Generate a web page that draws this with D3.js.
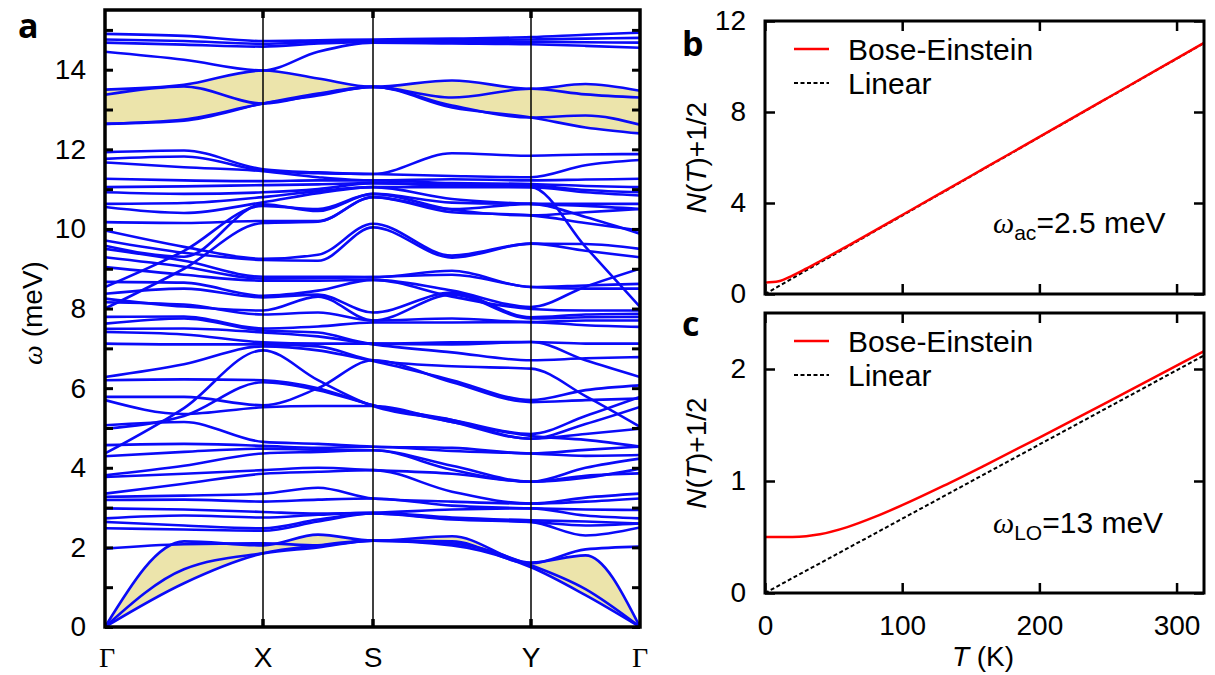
<!DOCTYPE html>
<html>
<head>
<meta charset="utf-8">
<script src="https://cdn.jsdelivr.net/npm/d3@7"></script>
<style>
  body { margin: 0; background: #fff; }
  svg { display: block; }
  text { font-family: "Liberation Sans", Arial, sans-serif; fill: #000; }
</style>
</head>
<body>
<svg id="fig" width="1215" height="675"></svg>
<script>
// ---- panel a : phonon bands, sampled at G, G-X/2, X, X-S/2, S, S-Y/2, Y, Y-G/2, G
const kLabels = ["\u0393", "X", "S", "Y", "\u0393"];
const kNodes = [0, 1, 2, 3, 4];
const kSamples = [0, 0.5, 1, 1.5, 2, 2.5, 3, 3.5, 4];

const topBands = [
  [14.90, 14.85, 14.72, 14.74, 14.76, 14.78, 14.82, 14.88, 14.93],
  [14.76, 14.72, 14.65, 14.70, 14.72, 14.74, 14.76, 14.78, 14.80],
  [14.68, 14.63, 14.58, 14.66, 14.70, 14.70, 14.70, 14.69, 14.68],
  [14.45, 14.25, 13.98, 14.45, 14.68, 14.66, 14.64, 14.60, 14.55]
];

// LO group (shaded)
const loBands = [
  [13.50, 13.62, 13.98, 13.78, 13.57, 13.73, 13.52, 13.64, 13.47],
  [13.37, 13.58, 13.15, 13.38, 13.57, 13.30, 13.52, 13.38, 13.30],
  [12.64, 12.75, 13.15, 13.35, 13.57, 13.10, 12.80, 12.85, 12.62],
  [12.64, 12.72, 13.15, 13.40, 13.57, 13.05, 12.80, 12.55, 12.40]
];

const midBands = [
  [11.93, 11.97, 11.50, 11.42, 11.38, 11.90, 11.84, 11.87, 11.88],
  [11.76, 11.82, 11.47, 11.40, 11.38, 11.33, 11.30, 11.60, 11.73],
  [11.67, 11.55, 11.45, 11.30, 11.22, 11.25, 11.22, 11.24, 11.26],
  [11.26, 11.22, 11.20, 11.22, 11.22, 11.15, 11.13, 11.08, 11.05],
  [11.05, 11.07, 11.10, 11.12, 11.15, 11.12, 11.09, 10.98, 10.92],
  [10.92, 10.88, 10.92, 11.00, 11.15, 11.08, 11.05, 9.55, 8.04],
  [10.63, 10.65, 10.80, 10.95, 11.05, 11.05, 11.05, 10.92, 10.84],
  [10.55, 10.40, 10.67, 10.90, 11.05, 10.75, 10.63, 10.58, 10.50],
  [10.17, 10.15, 10.20, 10.20, 10.80, 10.42, 10.34, 10.15, 9.96],
  [9.96, 9.55, 9.25, 9.35, 10.13, 9.33, 9.63, 9.62, 9.50],
  [9.71, 9.40, 9.22, 9.20, 10.04, 9.28, 9.63, 9.45, 9.29],
  [9.58, 9.30, 10.62, 10.45, 10.88, 10.66, 10.63, 10.63, 10.63],
  [8.54, 9.45, 10.58, 10.50, 10.88, 10.48, 10.34, 10.42, 10.50],
  [8.00, 9.00, 10.15, 10.18, 10.80, 10.50, 10.63, 10.30, 9.88],
  [9.50, 9.20, 8.80, 8.80, 8.79, 8.95, 8.54, 8.58, 8.62],
  [9.29, 9.05, 8.75, 8.76, 8.79, 8.85, 8.54, 8.50, 8.50],
  [9.04, 8.85, 8.70, 8.70, 8.72, 8.45, 8.04, 8.55, 9.00],
  [8.67, 8.65, 8.32, 8.45, 8.72, 8.30, 7.99, 7.95, 7.95],
  [8.37, 8.50, 8.28, 8.35, 7.90, 8.40, 7.78, 7.85, 7.87],
  [8.25, 8.05, 7.95, 8.30, 7.70, 8.35, 7.75, 7.78, 7.79],
  [8.16, 8.10, 7.85, 7.90, 7.70, 7.75, 7.66, 7.70, 7.70],
  [7.79, 7.80, 7.50, 7.55, 7.65, 7.65, 7.66, 7.58, 7.54],
  [7.62, 7.75, 7.45, 7.40, 7.12, 7.10, 7.16, 7.12, 7.12],
  [7.49, 7.50, 7.40, 7.30, 7.10, 6.90, 6.70, 6.75, 6.78],
  [7.41, 7.35, 7.15, 7.12, 7.12, 7.15, 7.16, 6.70, 6.28],
  [7.12, 7.10, 7.10, 7.05, 6.70, 6.55, 6.49, 5.80, 5.03],
  [6.28, 6.60, 7.05, 6.95, 6.68, 6.20, 5.70, 5.95, 6.07],
  [6.20, 6.22, 6.20, 6.00, 5.57, 5.20, 4.73, 5.10, 5.53],
  [5.78, 5.78, 5.57, 6.00, 6.70, 6.15, 5.65, 5.70, 5.74],
  [5.70, 5.35, 5.52, 5.55, 5.55, 5.15, 4.80, 4.70, 4.53],
  [5.07, 5.15, 4.65, 4.60, 4.53, 4.50, 4.36, 4.45, 4.53],
  [4.98, 5.30, 6.15, 5.95, 5.57, 5.15, 4.73, 4.85, 4.98],
  [4.36, 5.50, 6.95, 6.20, 5.55, 5.20, 4.85, 5.30, 5.78],
  [4.57, 4.60, 4.55, 4.50, 4.53, 4.42, 4.36, 4.30, 4.32],
  [4.29, 4.40, 4.48, 4.45, 4.44, 4.05, 3.65, 4.00, 4.23],
  [3.81, 4.05, 4.36, 4.40, 4.44, 3.95, 3.65, 3.75, 3.98],
  [3.77, 3.85, 3.94, 4.00, 3.94, 3.85, 3.65, 3.80, 3.86],
  [3.35, 3.60, 3.85, 3.90, 3.94, 3.40, 3.10, 3.25, 3.35],
  [3.27, 3.30, 3.35, 3.50, 3.23, 3.15, 3.10, 3.15, 3.23],
  [3.19, 3.20, 3.15, 3.20, 3.23, 3.05, 2.98, 2.95, 2.94],
  [2.98, 2.95, 2.89, 2.85, 2.87, 2.95, 2.98, 2.80, 2.73],
  [2.73, 2.80, 2.75, 2.82, 2.87, 2.75, 2.68, 2.65, 2.60],
  [2.64, 2.55, 2.48, 2.70, 2.85, 2.72, 2.64, 2.30, 2.50],
  [2.48, 2.45, 2.42, 2.65, 2.85, 2.70, 2.64, 2.55, 2.60],
  [1.97, 2.08, 2.10, 2.05, 2.17, 2.15, 1.60, 1.95, 2.02]
];

// acoustic group (shaded)
const acBands = [
  [0, 1.10, 1.85, 2.05, 2.17, 2.05, 1.50, 0.80, 0],
  [0, 1.45, 1.85, 2.00, 2.17, 2.10, 1.55, 0.95, 0],
  [0, 2.15, 2.05, 2.32, 2.17, 2.28, 1.62, 1.80, 0]
];

const omegaTicks = d3.range(0, 16);

// ---- panels b, c : N(T)+1/2
const tempK = [0, 10, 20, 30, 40, 60, 80, 100, 130, 160, 200, 250, 320];
const beAc  = [0.5, 0.558, 0.806, 1.114, 1.439, 2.108, 2.787, 3.471, 4.498, 5.530, 6.906, 8.627, 11.037];
const linAc = [0, 0.345, 0.689, 1.034, 1.379, 2.068, 2.758, 3.447, 4.481, 5.515, 6.894, 8.617, 11.03];
const beLo  = [0.5, 0.5, 0.5005, 0.507, 0.524, 0.588, 0.679, 0.784, 0.956, 1.138, 1.388, 1.707, 2.160];
const linLo = [0, 0.066, 0.133, 0.199, 0.265, 0.398, 0.530, 0.663, 0.862, 1.061, 1.326, 1.657, 2.121];
const tTicks = [0, 100, 200, 300];
const bTicks = [0, 4, 8, 12];
const cTicks = [0, 1, 2];

const FONT = '"Liberation Sans", Arial, sans-serif';
const BLUE = "#0a0af8";
const SHADE = "#ece4ab";

const svg = d3.select("#fig");

// ================= panel a =================
const xa = d3.scaleLinear().domain(kNodes).range([105, 263, 373, 531, 640]);
const ya = d3.scaleLinear().domain([0, 15.5]).range([627, 10]);

svg.append("clipPath").attr("id", "clipA")
  .append("rect").attr("x", 105).attr("y", 10).attr("width", 535).attr("height", 617);

const pa = svg.append("g").attr("clip-path", "url(#clipA)");

const bandLine = d3.line()
  .x((d, i) => xa(kSamples[i]))
  .y(d => ya(d))
  .curve(d3.curveMonotoneX);

function envelope(group) {
  return kSamples.map((k, i) => ({
    k: k,
    lo: d3.min(group, b => b[i]),
    hi: d3.max(group, b => b[i])
  }));
}
const shadeArea = d3.area()
  .x(d => xa(d.k))
  .y0(d => ya(d.lo))
  .y1(d => ya(d.hi))
  .curve(d3.curveMonotoneX);

pa.selectAll("path.shade")
  .data([envelope(loBands), envelope(acBands)])
  .enter().append("path")
  .attr("class", "shade")
  .attr("d", shadeArea)
  .attr("fill", SHADE);

pa.selectAll("path.band")
  .data([...topBands, ...loBands, ...midBands, ...acBands])
  .enter().append("path")
  .attr("class", "band")
  .attr("d", bandLine)
  .attr("fill", "none")
  .attr("stroke", BLUE)
  .attr("stroke-width", 2.6);

// high-symmetry lines
svg.selectAll("line.hs")
  .data(kNodes.slice(1, 4))
  .enter().append("line")
  .attr("x1", d => xa(d)).attr("x2", d => xa(d))
  .attr("y1", 10).attr("y2", 627)
  .attr("stroke", "#000").attr("stroke-width", 1.5);

// small ticks at high-symmetry points (top & bottom)
kNodes.slice(1, 4).forEach(k => {
  [[627, 619], [10, 18]].forEach(([a, b]) => {
    svg.append("line")
      .attr("x1", xa(k)).attr("x2", xa(k)).attr("y1", a).attr("y2", b)
      .attr("stroke", "#000").attr("stroke-width", 3.5);
  });
});

// y axis, left (labels) and right (ticks only)
const axA = svg.append("g")
  .attr("transform", "translate(105,0)")
  .call(d3.axisLeft(ya).tickValues(omegaTicks).tickSize(-8).tickPadding(19)
    .tickFormat(d => (d % 2 === 0 ? d : "")));
const axA2 = svg.append("g")
  .attr("transform", "translate(640,0)")
  .call(d3.axisRight(ya).tickValues(omegaTicks).tickSize(-8).tickFormat(""));

[axA, axA2].forEach(g => {
  g.select(".domain").remove();
  g.selectAll("line").attr("stroke-width", 3);
  g.attr("font-size", 28).attr("font-family", FONT);
});

svg.append("rect")
  .attr("x", 105).attr("y", 10).attr("width", 535).attr("height", 617)
  .attr("fill", "none").attr("stroke", "#000").attr("stroke-width", 3.5);

// k labels
svg.selectAll("text.klab")
  .data(kLabels)
  .enter().append("text")
  .attr("class", "klab")
  .attr("x", (d, i) => xa(kNodes[i]) + (i === 0 ? 2 : 0))
  .attr("y", 667)
  .attr("text-anchor", "middle")
  .attr("font-size", 28)
  .style("font-family", d => (d === "\u0393" ? '"Liberation Serif", serif' : FONT))
  .text(d => d);

const yLab = svg.append("text")
  .attr("transform", "translate(42,313) rotate(-90)")
  .attr("text-anchor", "middle")
  .attr("font-size", 28);
yLab.append("tspan").attr("font-style", "italic").style("font-family", '"Liberation Serif", serif').text("\u03c9");
yLab.append("tspan").text(" (meV)");

// panel letters
[["a", 18, 38], ["b", 682, 56], ["c", 682, 336]].forEach(([t, x, y]) => {
  svg.append("text")
    .attr("x", x).attr("y", y)
    .attr("font-size", 34).attr("font-weight", "bold")
    .style("font-family", '"Open Sans", sans-serif')
    .text(t);
});

// ================= panels b & c =================
const xT = d3.scaleLinear().domain([0, 320]).range([765, 1204]);

function drawPanel(opt) {
  const y = d3.scaleLinear().domain([0, opt.ymax]).range([opt.bottom, opt.top]);
  const g = svg.append("g");

  const lineOf = vals => d3.line()
    .x((d, i) => xT(tempK[i]))
    .y(d => y(d))
    .curve(d3.curveMonotoneX)(vals);

  g.append("path").attr("d", lineOf(opt.lin))
    .attr("fill", "none").attr("stroke", "#000")
    .attr("stroke-width", 2).attr("stroke-dasharray", "4,2.5");
  g.append("path").attr("d", lineOf(opt.be))
    .attr("fill", "none").attr("stroke", "#f00").attr("stroke-width", 2.5);

  const axL = g.append("g").attr("transform", `translate(765,0)`)
    .call(d3.axisLeft(y).tickValues(opt.ticks).tickSize(-10).tickPadding(19)
      .tickFormat(d3.format("d")));
  const axR = g.append("g").attr("transform", `translate(1204,0)`)
    .call(d3.axisRight(y).tickValues(opt.ticks).tickSize(-10).tickFormat(""));
  const axB = g.append("g").attr("transform", `translate(0,${opt.bottom})`)
    .call(d3.axisBottom(xT).tickValues(tTicks).tickSize(-10).tickPadding(22)
      .tickFormat(opt.xlabels ? d3.format("d") : ""));
  const axT = g.append("g").attr("transform", `translate(0,${opt.top})`)
    .call(d3.axisTop(xT).tickValues(tTicks).tickSize(-10).tickFormat(""));
  [axL, axR, axB, axT].forEach(a => {
    a.select(".domain").remove();
    a.selectAll("line").attr("stroke-width", 2.5);
    a.attr("font-size", 28).attr("font-family", FONT);
  });

  g.append("rect")
    .attr("x", 765).attr("y", opt.top)
    .attr("width", 1204 - 765).attr("height", opt.bottom - opt.top)
    .attr("fill", "none").attr("stroke", "#000").attr("stroke-width", 3);

  // legend
  const ly = opt.top + 28;
  g.append("line").attr("x1", 794).attr("x2", 829).attr("y1", ly).attr("y2", ly)
    .attr("stroke", "#f00").attr("stroke-width", 2.5);
  g.append("text").attr("x", 848).attr("y", ly + 11).attr("font-size", 30).text("Bose-Einstein");
  g.append("line").attr("x1", 794).attr("x2", 829).attr("y1", ly + 34).attr("y2", ly + 34)
    .attr("stroke", "#000").attr("stroke-width", 2).attr("stroke-dasharray", "4,2.5");
  g.append("text").attr("x", 848).attr("y", ly + 45).attr("font-size", 30).text("Linear");

  // annotation
  const an = g.append("text").attr("x", 993).attr("y", opt.annY).attr("font-size", 30);
  an.append("tspan").attr("font-style", "italic").style("font-family", '"Liberation Serif", serif').text("\u03c9");
  an.append("tspan").attr("font-size", 21).attr("dy", 7).text(opt.sub);
  an.append("tspan").attr("dy", -7).text(opt.ann);

  // y label
  const yl = g.append("text")
    .attr("transform", `translate(706,${(opt.top + opt.bottom) / 2}) rotate(-90)`)
    .attr("text-anchor", "middle").attr("font-size", 28);
  yl.append("tspan").attr("font-style", "italic").text("N");
  yl.append("tspan").text("(");
  yl.append("tspan").attr("font-style", "italic").text("T");
  yl.append("tspan").text(")+1/2");
}

drawPanel({ top: 21, bottom: 294, ymax: 12, ticks: bTicks, be: beAc, lin: linAc,
  xlabels: false, annY: 233, sub: "ac", ann: "=2.5 meV" });
drawPanel({ top: 313, bottom: 593, ymax: 2.5, ticks: cTicks, be: beLo, lin: linLo,
  xlabels: true, annY: 533, sub: "LO", ann: "=13 meV" });

const xl = svg.append("text").attr("x", 983).attr("y", 666)
  .attr("text-anchor", "middle").attr("font-size", 28);
xl.append("tspan").attr("font-style", "italic").text("T");
xl.append("tspan").text(" (K)");
</script>
</body>
</html>
